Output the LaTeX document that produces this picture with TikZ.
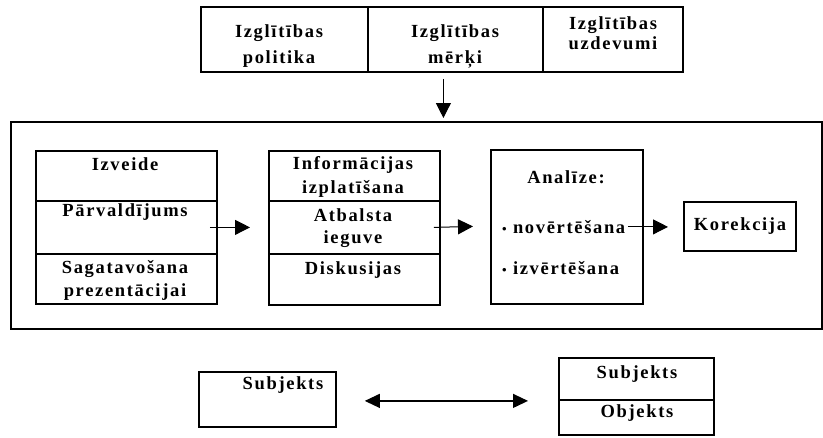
\documentclass[tikz,border=0pt]{standalone}
\usepackage{fontspec}
\setmainfont{Liberation Serif}[LetterSpace=9]
\usetikzlibrary{arrows.meta,calc}
\begin{document}
\begin{tikzpicture}[x=1pt,y=-1pt,
  cell/.style={draw,line width=1.8pt,anchor=north west,inner sep=0pt},
  txt/.style={font=\bfseries\fontsize{18.5}{24}\selectfont,align=center,inner sep=0pt},
  arr/.style={line width=1pt,-{Triangle[length=15pt,width=15pt]}},
  dbl/.style={line width=1.2pt,{Triangle[length=15pt,width=14pt]}-{Triangle[length=15pt,width=14pt]}}]
\useasboundingbox (0,0) rectangle (823,437);
% top row
\node[cell,minimum width=167pt,minimum height=65pt] (t1) at (200,6) {};
\node[cell,minimum width=175pt,minimum height=65pt] (t2) at (367,6) {};
\node[cell,minimum width=140pt,minimum height=65pt] (t3) at (542,6) {};
\node[txt,font=\bfseries\fontsize{18.5}{26}\selectfont] (t1a) at (279,46) {Izglītības\\politika};
\node[txt,font=\bfseries\fontsize{18.5}{26}\selectfont] (t2a) at (455,46) {Izglītības\\mērķi};
\node[txt,font=\bfseries\fontsize{18.5}{20}\selectfont] (t3a) at (613,33) {Izglītības\\uzdevumi};
% big frame
\node[cell,minimum width=811pt,minimum height=207pt] (frame) at (10,121) {};
\draw[arr] ([xshift=-12pt,yshift=-6pt]t2.south) -- ([xshift=-12pt,yshift=3pt]frame.north -| t2.south);
% box 1
\node[cell,minimum width=181pt,minimum height=50pt] (izv) at (35,150) {};
\node[cell,minimum width=181pt,minimum height=53pt] (parv) at (35,200) {};
\node[cell,minimum width=181pt,minimum height=50pt] (sag) at (35,253) {};
\node[txt] (izvt) at (125,164) {Izveide};
\node[txt] (parvt) at (125,212) {Pārvaldījums};
\node[txt,font=\bfseries\fontsize{18.5}{23}\selectfont] (sagt) at (125,280) {Sagatavošana\\prezentācijai};
% box 2
\node[cell,minimum width=171pt,minimum height=50pt] (inf) at (268,150) {};
\node[cell,minimum width=171pt,minimum height=53pt] (atb) at (268,200) {};
\node[cell,minimum width=171pt,minimum height=51pt] (dis) at (268,253) {};
\node[txt] (inft) at (353,177) {Informācijas\\izplatīšana};
\node[txt,font=\bfseries\fontsize{18.5}{22}\selectfont] (atbt) at (353,228) {Atbalsta\\ieguve};
\node[txt] (dist) at (353,270) {Diskusijas};
% box 3
\node[cell,minimum width=152pt,minimum height=154pt] (ana) at (490,149) {};
\node[txt] (anat) at (566,177) {Analīze:};
\node[txt,anchor=west] (nov) at (502,227) {\fontsize{13}{13}\selectfont•\fontsize{18.5}{24}\selectfont{} novērtēšana};
\node[txt,anchor=west] (izvr) at (502,268) {\fontsize{13}{13}\selectfont•\fontsize{18.5}{24}\selectfont{} izvērtēšana};
% korekcija
\node[cell,minimum width=112pt,minimum height=49pt] (kor) at (683,201) {};
\node[txt] (kort) at (740,226) {Korekcija};
% arrows
\draw[arr] ([xshift=-8pt]parv.east) -- ([xshift=-18pt]atb.west);
\draw[arr] ([xshift=-7pt]atb.east) -- ([xshift=-17pt,yshift=0.5pt]ana.west);
\draw[arr] ([xshift=-16pt]ana.east) -- ([xshift=-15pt]ana.east -| kor.west);
% bottom
\node[cell,minimum width=137pt,minimum height=55pt] (subL) at (198,371) {};
\node[txt] (subLt) at (283,385) {Subjekts};
\node[cell,minimum width=155pt,minimum height=42pt] (subR) at (558,357) {};
\node[cell,minimum width=155pt,minimum height=35pt] (objR) at (558,399) {};
\node[txt] (subRt) at (637,374) {Subjekts};
\node[txt] (objRt) at (637,413) {Objekts};
\coordinate (rb) at (subL.east -| subR.west);
\draw[dbl] ([xshift=28pt,yshift=-1.5pt]subL.east) -- ([xshift=-30pt,yshift=-1.5pt]rb);
\end{tikzpicture}
\end{document}
